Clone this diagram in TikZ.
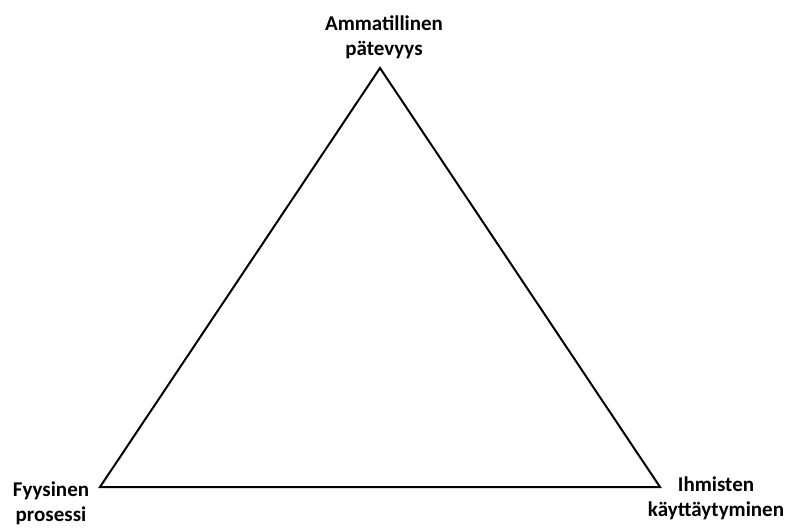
\documentclass[tikz,border=0pt]{standalone}
\usepackage{fontspec}
\setmainfont{Carlito}
\begin{document}
\begin{tikzpicture}[x=1pt,y=-1pt,
  lbl/.style={font=\bfseries\fontsize{21}{25}\selectfont, align=center, inner sep=0pt},
  edge/.style={line width=2pt, line join=miter}]
\useasboundingbox (0,0) rectangle (792,530);
\coordinate (top) at (380,68);
\coordinate (bl) at (100,487);
\coordinate (br) at (660,487);
\draw[edge] (top) -- (br) -- (bl) -- cycle;
\node[lbl, anchor=base] (ta) at (384,55) {Ammatillinen\\pätevyys};
\node[lbl, anchor=base] (la) at (51,521) {Fyysinen\\prosessi};
\node[lbl, anchor=base] (ra) at (716,516) {Ihmisten\\käyttäytyminen};
\end{tikzpicture}
\end{document}
